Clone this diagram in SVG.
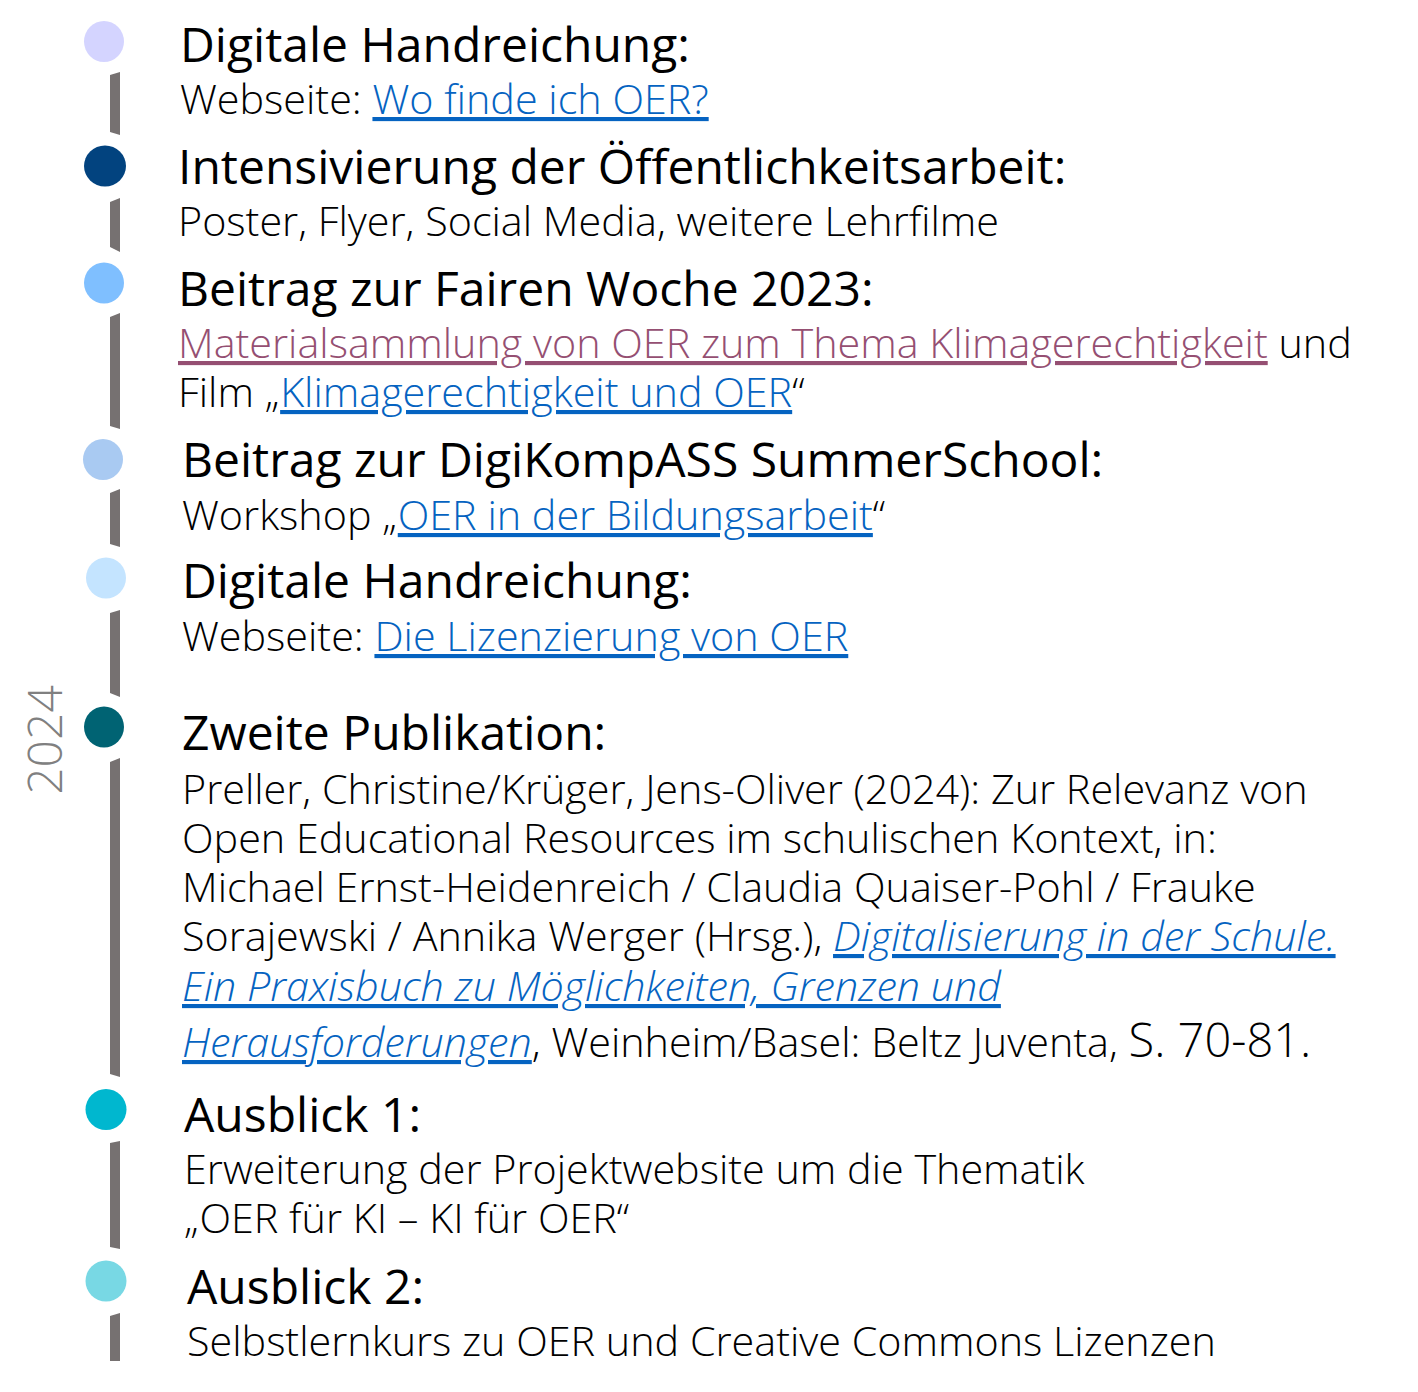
<svg xmlns="http://www.w3.org/2000/svg" width="1418" height="1392" viewBox="0 0 1418 1392">
<style>
text{font-family:"Open Sans","Noto Sans","DejaVu Sans",sans-serif;fill:#000}
.h{font-size:48px;font-weight:400}
.b{font-size:41.3px;font-weight:300}
.lk{fill:#0563C1;text-decoration:underline;text-decoration-skip-ink:none;text-decoration-thickness:2px}
.vis{fill:#954F72;text-decoration:underline;text-decoration-skip-ink:none;text-decoration-thickness:2px}
.it{font-style:italic}
.bar{fill:#767171}
.yr{font-size:48px;font-weight:300;fill:#808080}
</style>
<rect width="1418" height="1392" fill="#fff"/>
<g id="connectors">
<polygon class="bar" points="110,75 120,72 120,135 110,132"/>
<polygon class="bar" points="110,202 120,198 120,252 110,247"/>
<polygon class="bar" points="110,317 120,313 120,429 110,426"/>
<polygon class="bar" points="110,493 120,489 120,547 110,544"/>
<polygon class="bar" points="110,613 120,610 120,697 110,693"/>
<polygon class="bar" points="110,762 120,758 120,1077 110,1074"/>
<polygon class="bar" points="110,1143 120,1141 120,1249 110,1247"/>
<polygon class="bar" points="110,1316 120,1313 120,1361 110,1361"/>
</g>
<text class="yr" transform="translate(62,740) rotate(-90)" text-anchor="middle">2024</text>
<g id="node1">
<ellipse cx="104" cy="41.5" rx="20" ry="20.5" fill="#D4D4FF"/>
<text class="h" x="180" y="62">Digitale Handreichung:</text>
<text class="b" x="180" y="114">Webseite: <tspan class="lk">Wo finde ich OER?</tspan></text>
</g>
<g id="node2">
<ellipse cx="105" cy="166" rx="21" ry="20.5" fill="#02437F"/>
<text class="h" x="178" y="184">Intensivierung der Öffentlichkeitsarbeit:</text>
<text class="b" x="178" y="236">Poster, Flyer, Social Media, weitere Lehrfilme</text>
</g>
<g id="node3">
<ellipse cx="104" cy="283" rx="20" ry="20.5" fill="#7FBFFF"/>
<text class="h" x="178" y="306">Beitrag zur Fairen Woche 2023:</text>
<text class="b" x="178" y="358"><tspan class="vis">Materialsammlung von OER zum Thema Klimagerechtigkeit</tspan> und</text>
<text class="b" x="178" y="407">Film „<tspan class="lk">Klimagerechtigkeit und OER</tspan>“</text>
</g>
<g id="node4">
<ellipse cx="103" cy="459.5" rx="20" ry="20.5" fill="#A9CAF2"/>
<text class="h" x="182" y="477">Beitrag zur DigiKompASS SummerSchool:</text>
<text class="b" x="182" y="530">Workshop „<tspan class="lk">OER in der Bildungsarbeit</tspan>“</text>
</g>
<g id="node5">
<ellipse cx="106" cy="578" rx="20" ry="20.5" fill="#C4E4FF"/>
<text class="h" x="182" y="598">Digitale Handreichung:</text>
<text class="b" x="182" y="651">Webseite: <tspan class="lk">Die Lizenzierung von OER</tspan></text>
</g>
<g id="node6">
<ellipse cx="104" cy="727" rx="20" ry="20.5" fill="#006373"/>
<text class="h" x="182" y="750">Zweite Publikation:</text>
<text class="b" x="182" y="804">Preller, Christine/Krüger, Jens-Oliver (2024): Zur Relevanz von</text>
<text class="b" x="182" y="853">Open Educational Resources im schulischen Kontext, in:</text>
<text class="b" x="182" y="902">Michael Ernst-Heidenreich / Claudia Quaiser-Pohl / Frauke</text>
<text class="b" x="182" y="951">Sorajewski / Annika Werger (Hrsg.), <tspan class="lk it">Digitalisierung in der Schule.</tspan></text>
<text class="b" x="182" y="1001"><tspan class="lk it">Ein Praxisbuch zu Möglichkeiten, Grenzen und</tspan></text>
<text class="b" x="182" y="1057"><tspan class="lk it">Herausforderungen</tspan>, Weinheim/Basel: Beltz Juventa, <tspan font-size="47">S. 70-81.</tspan></text>
</g>
<g id="node7">
<ellipse cx="106" cy="1109.5" rx="20.5" ry="20.5" fill="#00B7CF"/>
<text class="h" x="184" y="1132">Ausblick 1:</text>
<text class="b" x="184" y="1184">Erweiterung der Projektwebsite um die Thematik</text>
<text class="b" x="184" y="1233">„OER für KI – KI für OER“</text>
</g>
<g id="node8">
<ellipse cx="106" cy="1281" rx="20.5" ry="20.5" fill="#78D8E4"/>
<text class="h" x="187" y="1304">Ausblick 2:</text>
<text class="b" x="187" y="1356">Selbstlernkurs zu OER und Creative Commons Lizenzen</text>
</g>
</svg>
